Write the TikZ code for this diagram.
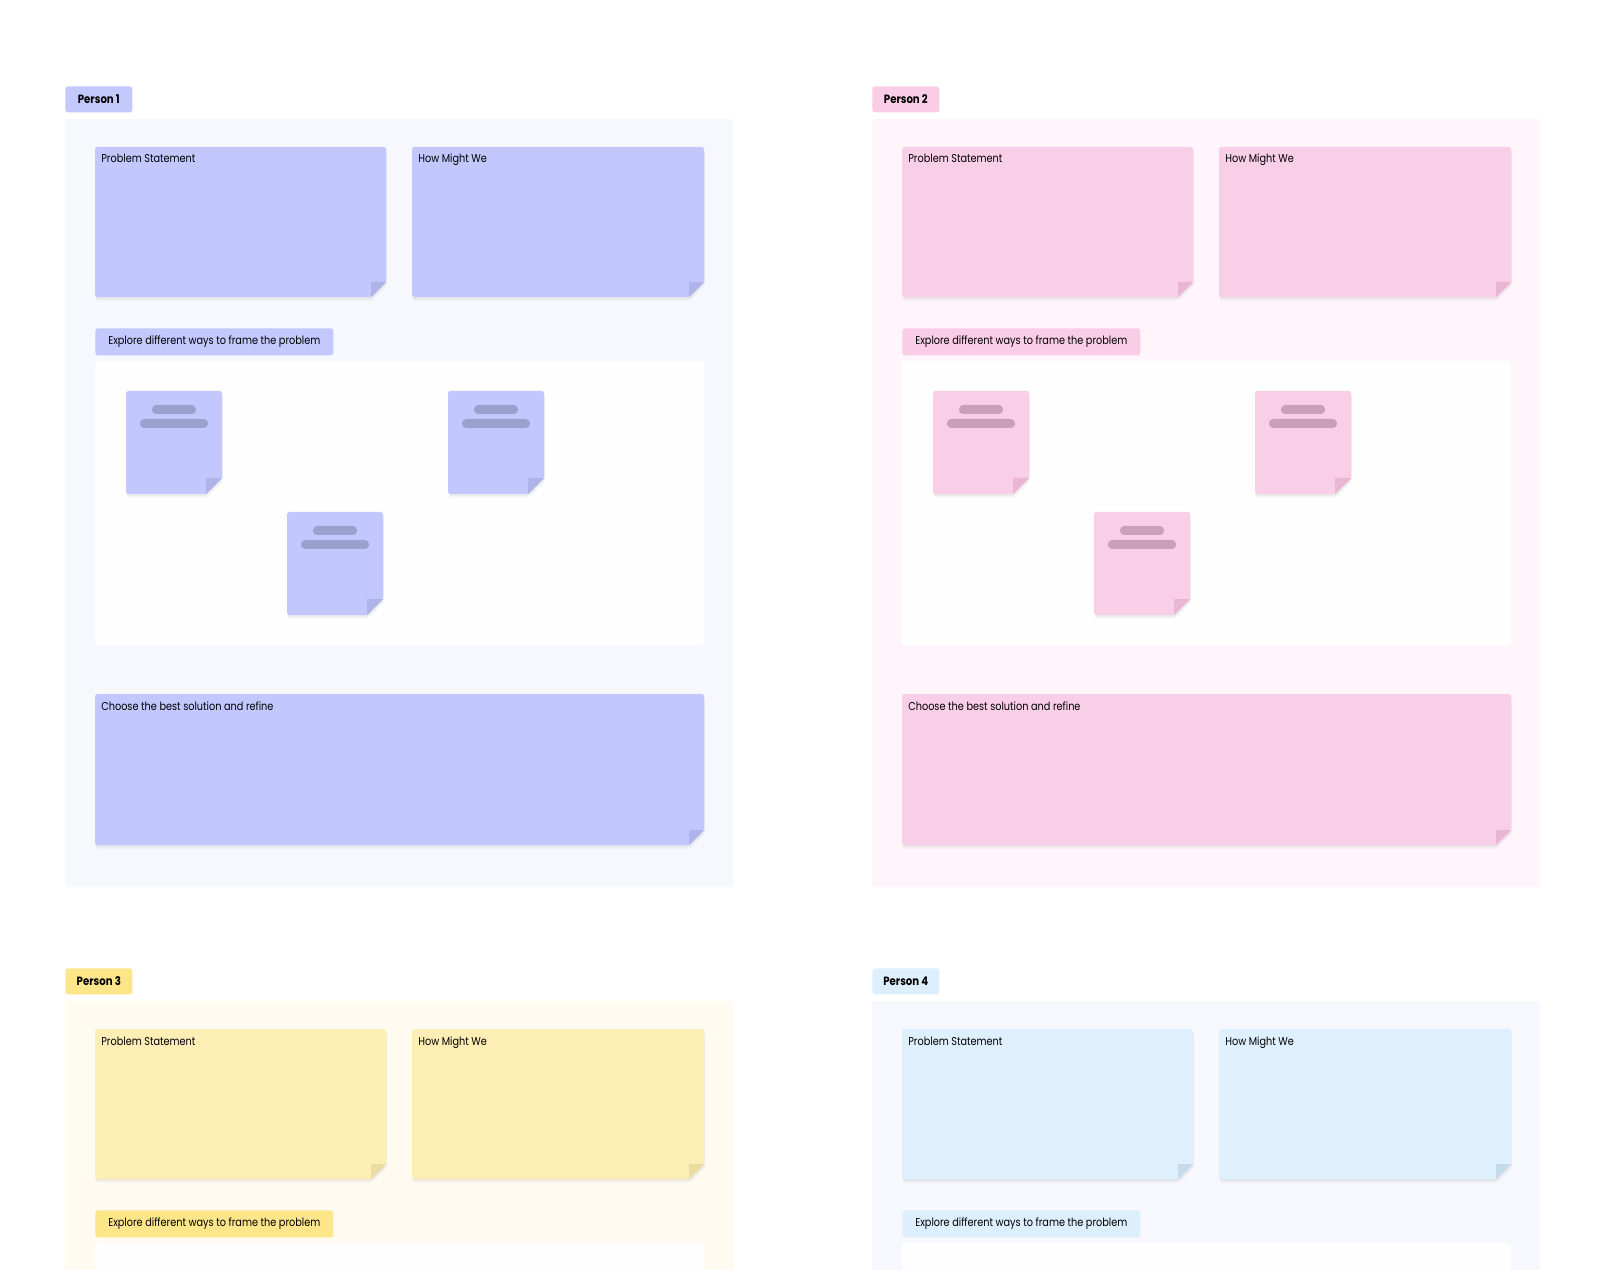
\documentclass[tikz,border=0pt]{standalone}
\usepackage{fontspec}
\setmainfont{Poppins}[FakeStretch=0.85]
\usepackage{xcolor}
\usepackage{tikz}
\usetikzlibrary{shadows}

% board colours, one letter per person
\definecolor{tagA}{HTML}{C3C8FD}
\definecolor{noteA}{HTML}{C2C8FD}
\definecolor{foldA}{HTML}{AEB4EA}
\definecolor{barA}{HTML}{9AA1CD}
\definecolor{bgA}{HTML}{F7F8FD}
\definecolor{tagB}{HTML}{F9CDE6}
\definecolor{noteB}{HTML}{F9CFE8}
\definecolor{foldB}{HTML}{EAB5D3}
\definecolor{barB}{HTML}{C8A0BA}
\definecolor{bgB}{HTML}{FFF5FA}
\definecolor{tagC}{HTML}{FDE68A}
\definecolor{noteC}{HTML}{FDEEB6}
\definecolor{foldC}{HTML}{EBDCA2}
\definecolor{barC}{HTML}{D6C38A}
\definecolor{bgC}{HTML}{FFFBF1}
\definecolor{tagD}{HTML}{DDEFFD}
\definecolor{noteD}{HTML}{DEF0FE}
\definecolor{foldD}{HTML}{C5DBEB}
\definecolor{barD}{HTML}{A9BFD0}
\definecolor{bgD}{HTML}{F7F8FD}
\definecolor{canvas}{HTML}{FEFEFE}

\tikzstyle{persontag} = [
    rectangle,
    rounded corners=1.5pt,
    anchor=north west,
    minimum width=1.34cm,
    minimum height=0.52cm,
    inner sep=0pt,
    font=\fontsize{6.8}{7}\selectfont\bfseries
    ]
\tikzstyle{steptag} = [
    rectangle,
    rounded corners=1.5pt,
    anchor=north west,
    minimum width=4.76cm,
    minimum height=0.54cm,
    inner sep=0pt,
    font=\fontsize{6.5}{7}\selectfont
    ]
\tikzstyle{title} = [
    anchor=base west,
    inner sep=0pt,
    font=\fontsize{6.5}{7}\selectfont
    ]
\tikzstyle{paper} = [
    rounded corners=1pt,
    drop shadow={shadow xshift=0.6pt, shadow yshift=-2.2pt, opacity=0.05},
    drop shadow={shadow xshift=0.3pt, shadow yshift=-1.2pt, opacity=0.10}
    ]
\tikzstyle{bar} = [rounded corners=2.4pt]

% sticky note with folded corner: x1, y1, x2, y2, fold size, colour letter
\newcommand{\sticky}[6]{%
  \fill[paper, fill=note#6] (#1,#2) -- (#3,#2) -- (#3,#4-#5) -- (#3-#5,#4) -- (#1,#4) -- cycle;
  \fill[fill=fold#6] (#3,#4-#5) -- (#3-#5,#4-#5) -- (#3-#5,#4) -- cycle;
}

\begin{document}
\begin{tikzpicture}[x=0.02cm, y=-0.02cm]
    \useasboundingbox (0,0) rectangle (1600,1270);
    \clip (0,0) rectangle (1600,1270);
    \fill[white] (0,0) rectangle (1600,1270);

    \foreach \c/\n/\px/\py in {A/1/65/86, B/2/872/86, C/3/65/968, D/4/872/968} {
      \begin{scope}[shift={(\px,\py)}]
        % board
        \fill[bg\c, rounded corners=1pt] (0,33) rectangle (668,801);
        \node (tag\n) [persontag, fill=tag\c] at (0,0) {Person \n};

        % top notes
        \sticky{30}{61}{321}{211}{15}{\c}
        \sticky{347}{61}{639}{211}{15}{\c}
        \node (ps\n) [title] at (36,77) {Problem Statement};
        \node (hmw\n) [title] at (353,77) {How Might We};

        % framing area
        \node (explore\n) [steptag, fill=tag\c] at (30,242) {Explore different ways to frame the problem};
        \fill[canvas, rounded corners=1pt] (30,275) rectangle (639,559);

        % lower half only for the top row, the bottom row runs off the page
        \ifnum\py<500
          \foreach \sx/\sy in {61/305, 383/305, 222/426} {
            \sticky{\sx}{\sy}{\sx+96}{\sy+103}{16}{\c}
            \fill[bar, bar\c] (\sx+26,\sy+14) rectangle (\sx+70,\sy+23);
            \fill[bar, bar\c] (\sx+14,\sy+28) rectangle (\sx+82,\sy+37);
          }

          % solution note
          \sticky{30}{608}{639}{759}{15}{\c}
          \node (refine\n) [title] at (36,624) {Choose the best solution and refine};
        \fi
      \end{scope}
    }
\end{tikzpicture}
\end{document}
